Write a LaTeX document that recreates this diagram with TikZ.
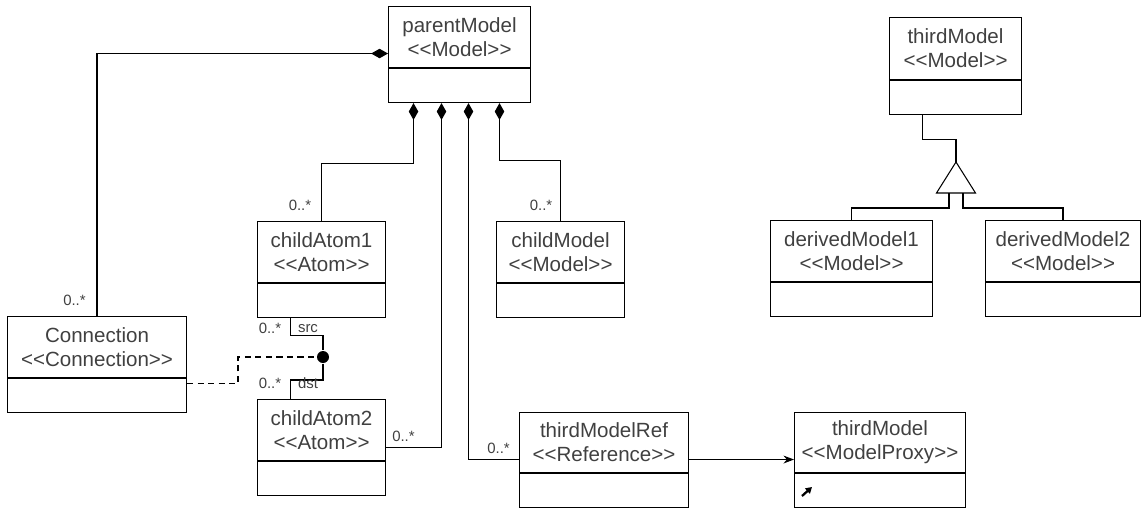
\documentclass[tikz,border=0pt]{standalone}
\usepackage{fontspec}
\setmainfont{Liberation Sans}[Ligatures=TeXOff]
\usetikzlibrary{arrows.meta}

\tikzset{
  classhead/.style={draw, rectangle, anchor=north west, inner sep=0pt, align=center,
    minimum height=1.22cm, text=black!75, font=\fontsize{11.7}{13.6}\selectfont},
  classbody/.style={draw, rectangle, anchor=north, inner sep=0pt, minimum height=0.68cm},
  mult/.style={inner sep=0pt, text=black!75, font=\fontsize{8.5}{10}\selectfont},
  comp/.style={{Diamond[length=9.6pt,width=5.4pt]}-},
  assocdot/.style={circle, fill, inner sep=0pt, minimum size=0.24cm}
}

\begin{document}
\begin{tikzpicture}[x=0.02cm, y=-0.02cm, line width=0.6pt]
        \useasboundingbox (0,0) rectangle (1144,508);
        % classes
        \node[classhead, minimum width=2.84cm] (pm) at (388,6) {parentModel\\<<Model>>};
        \node[classbody, minimum width=2.84cm] (pmb) at (pm.south) {};
        \node[classhead, minimum width=2.64cm, minimum height=1.24cm] (tm) at (889,17) {thirdModel\\<<Model>>};
        \node[classbody, minimum width=2.64cm] (tmb) at (tm.south) {};
        \node[classhead, minimum width=2.56cm] (ca1) at (257,221) {childAtom1\\<<Atom>>};
        \node[classbody, minimum width=2.56cm] (ca1b) at (ca1.south) {};
        \node[classhead, minimum width=2.56cm] (cm) at (496,221) {childModel\\<<Model>>};
        \node[classbody, minimum width=2.56cm] (cmb) at (cm.south) {};
        \node[classhead, minimum width=3.24cm] (dm1) at (770,220) {derivedModel1\\<<Model>>};
        \node[classbody, minimum width=3.24cm] (dm1b) at (dm1.south) {};
        \node[classhead, minimum width=3.10cm] (dm2) at (985,220) {derivedModel2\\<<Model>>};
        \node[classbody, minimum width=3.10cm] (dm2b) at (dm2.south) {};
        \node[classhead, minimum width=3.58cm] (con) at (7,316) {Connection\\<<Connection>>};
        \node[classbody, minimum width=3.58cm] (conb) at (con.south) {};
        \node[classhead, minimum width=2.56cm] (ca2) at (257,399) {childAtom2\\<<Atom>>};
        \node[classbody, minimum width=2.56cm] (ca2b) at (ca2.south) {};
        \node[classhead, minimum width=3.38cm, minimum height=1.2cm] (tmr) at (519,412) {thirdModelRef\\<<Reference>>};
        \node[classbody, minimum width=3.38cm] (tmrb) at (tmr.south) {};
        \node[classhead, minimum width=3.42cm, minimum height=1.2cm] (prx) at (794,412) {thirdModel\\<<ModelProxy>>};
        \node[classbody, minimum width=3.42cm] (prxb) at (prx.south) {};
        \draw[line width=1.3pt, -{Triangle[length=3.5pt,width=4pt]}] (802,496) -- (812,487);

        % compositions
        \draw[comp] ([yshift=-0.33cm]pm.west) -| (con.north);
        \draw[comp] ([xshift=-0.92cm]pmb.south) -- ++(0,60) -| (ca1.north);
        \draw[comp] ([xshift=-0.36cm]pmb.south) |- ([yshift=-0.35cm]ca2.east);
        \draw[comp] ([xshift=0.18cm]pmb.south) |- ([yshift=-0.34cm]tmr.west);
        \draw[comp] ([xshift=0.8cm]pmb.south) -- ++(0,57) -| (cm.north);

        % connection src/dst
        \node[assocdot] (dot) at (323,357) {};
        \draw ([xshift=-0.62cm]ca1b.south) -- ++(0,17) -| (dot);
        \draw (dot) -- ++(0,23) -| ([xshift=-0.62cm]ca2.north);
        \draw[dash pattern=on 3.5pt off 2.5pt] ([yshift=0.24cm]conb.east) -- ++(51,0) |- (dot);

        % reference
        \draw[-{Stealth[length=6pt,width=4.5pt]}] ([yshift=-0.34cm]tmr.east) -- ([yshift=-0.34cm]prx.west);

        % generalization
        \coordinate (gen) at (956,162);
        \coordinate (genb) at (956,193);
        \draw ([xshift=-0.66cm]tmb.south) -- ++(0,24) -| (gen);
        \draw (gen) -- ++(-19.5,31) -- ++(39,0) -- cycle;
        \draw ([xshift=-0.14cm]genb) -- ++(0,15) -| (dm1.north);
        \draw ([xshift=0.14cm]genb) -- ++(0,15) -| (dm2.north);

        % multiplicities and roles
        \node[mult] (m-con) at (74.5,300) {0..*};
        \node[mult] (m-ca1) at (300,205) {0..*};
        \node[mult] (m-cm) at (541,205) {0..*};
        \node[mult] (m-src) at (270,328) {0..*};
        \node[mult] (r-src) at (308,329) {src};
        \node[mult] (m-dst) at (270,383) {0..*};
        \node[mult] (r-dst) at (308,383) {dst};
        \node[mult] (m-ca2) at (403.5,436) {0..*};
        \node[mult] (m-tmr) at (498.5,448) {0..*};
    \end{tikzpicture}
\end{document}
